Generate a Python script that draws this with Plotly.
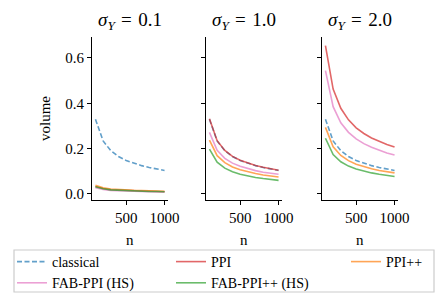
import plotly.graph_objects as go

n = [100, 200, 300, 400, 500, 600, 700, 800, 900, 1000]
sigmas = ["0.1", "1.0", "2.0"]
x_ticks = [500, 1000]
y_ticks = [0.0, 0.2, 0.4, 0.6]
y_tick_labels = ["0.0", "0.2", "0.4", "0.6"]

classical = [0.330, 0.234, 0.191, 0.165, 0.148, 0.135, 0.125, 0.117, 0.110, 0.104]

ppi = {
    "0.1": [0.033, 0.024, 0.019, 0.017, 0.015, 0.014, 0.013, 0.012, 0.011, 0.010],
    "1.0": [0.332, 0.235, 0.192, 0.166, 0.149, 0.136, 0.126, 0.118, 0.111, 0.105],
    "2.0": [0.654, 0.463, 0.378, 0.327, 0.292, 0.267, 0.247, 0.231, 0.218, 0.207],
}
ppi_pp = {
    "0.1": [0.038, 0.027, 0.022, 0.019, 0.017, 0.016, 0.015, 0.014, 0.013, 0.012],
    "1.0": [0.238, 0.169, 0.138, 0.119, 0.107, 0.097, 0.090, 0.084, 0.079, 0.075],
    "2.0": [0.294, 0.208, 0.170, 0.147, 0.131, 0.120, 0.111, 0.104, 0.098, 0.093],
}
fab_ppi = {
    "0.1": [0.028, 0.020, 0.016, 0.014, 0.013, 0.012, 0.011, 0.010, 0.010, 0.009],
    "1.0": [0.272, 0.193, 0.157, 0.136, 0.122, 0.111, 0.103, 0.096, 0.091, 0.087],
    "2.0": [0.544, 0.385, 0.314, 0.272, 0.243, 0.222, 0.206, 0.192, 0.181, 0.172],
}
fab_ppi_pp = {
    "0.1": [0.032, 0.023, 0.018, 0.016, 0.014, 0.013, 0.012, 0.011, 0.011, 0.010],
    "1.0": [0.198, 0.140, 0.114, 0.098, 0.087, 0.079, 0.073, 0.068, 0.064, 0.060],
    "2.0": [0.246, 0.174, 0.142, 0.123, 0.110, 0.100, 0.093, 0.087, 0.082, 0.077],
}

FONT = "Liberation Serif, Times New Roman, Times, serif"
W, H = 448, 306

colors = {
    "classical": "#1f77b4",
    "PPI": "#d62728",
    "PPI++": "#ff7f0e",
    "FAB-PPI (HS)": "#e377c2",
    "FAB-PPI++ (HS)": "#2ca02c",
}
legend_of = {
    "classical": "legend",
    "FAB-PPI (HS)": "legend",
    "PPI": "legend2",
    "FAB-PPI++ (HS)": "legend2",
    "PPI++": "legend3",
}

fig = go.Figure()

x_dom_px = [(92, 168), (206, 282), (322, 398)]
y_dom = [1 - 200 / H, 1 - 37 / H]

for i, s in enumerate(sigmas):
    xa = "x" if i == 0 else f"x{i+1}"
    ya = "y" if i == 0 else f"y{i+1}"
    series = [
        ("classical", classical, "dash"),
        ("PPI", ppi[s], "solid"),
        ("PPI++", ppi_pp[s], "solid"),
        ("FAB-PPI (HS)", fab_ppi[s], "solid"),
        ("FAB-PPI++ (HS)", fab_ppi_pp[s], "solid"),
    ]
    for name, vals, dash in series:
        fig.add_trace(go.Scatter(
            x=n, y=vals, mode="lines", name=name,
            line=dict(color=colors[name], width=1.6,
                      dash="5px,2.5px" if dash == "dash" else "solid"),
            opacity=0.7, xaxis=xa, yaxis=ya,
            showlegend=(i == 0), legend=legend_of[name],
        ))

axis_common = dict(
    showgrid=False, zeroline=False, showline=True, linecolor="black",
    linewidth=1.2, ticks="outside", ticklen=4, tickwidth=1.2, tickcolor="black",
    tickfont=dict(family=FONT, size=15, color="black"),
)

layout = dict(
    width=W, height=H, margin=dict(l=0, r=0, t=0, b=0, autoexpand=False),
    plot_bgcolor="white", paper_bgcolor="white",
    font=dict(family=FONT, color="black"),
)

for i in range(3):
    xk = "xaxis" if i == 0 else f"xaxis{i+1}"
    yk = "yaxis" if i == 0 else f"yaxis{i+1}"
    x0, x1 = x_dom_px[i]
    layout[xk] = dict(axis_common, domain=[x0 / W, x1 / W], range=[55, 1045],
                      tickvals=x_ticks, ticktext=[str(v) for v in x_ticks],
                      anchor="y" if i == 0 else f"y{i+1}")
    layout[yk] = dict(axis_common, domain=y_dom, range=[-0.0265, 0.6925],
                      tickvals=y_ticks, ticktext=y_tick_labels,
                      showticklabels=(i == 0),
                      anchor="x" if i == 0 else f"x{i+1}")

fig.update_layout(**layout)

annotations = []
for i, s in enumerate(sigmas):
    x0, x1 = x_dom_px[i]
    cx = (x0 + x1) / 2 / W
    annotations.append(dict(
        text=f"<i>σ</i><sub><i>Y</i></sub>\u2004=\u2004{s}", x=cx, y=1 - 21 / H,
        xref="paper", yref="paper", showarrow=False,
        font=dict(family=FONT, size=19, color="black"),
        xanchor="center", yanchor="middle"))
    annotations.append(dict(
        text="n", x=cx, y=1 - 240 / H, xref="paper", yref="paper",
        showarrow=False, font=dict(family=FONT, size=15, color="black"),
        xanchor="center", yanchor="middle"))
annotations.append(dict(
    text="volume", x=45 / W, y=1 - 119 / H, xref="paper", yref="paper",
    showarrow=False, textangle=-90,
    font=dict(family=FONT, size=15, color="black"),
    xanchor="center", yanchor="middle"))
fig.update_layout(annotations=annotations)

leg_common = dict(
    orientation="v", xanchor="left", yanchor="top", y=1 - 246 / H,
    bgcolor="rgba(0,0,0,0)", borderwidth=0, itemwidth=30,
    font=dict(family=FONT, size=14, color="black"),
    tracegroupgap=0,
)
fig.update_layout(
    legend=dict(leg_common, x=12 / W),
    legend2=dict(leg_common, x=171 / W),
    legend3=dict(leg_common, x=346 / W),
    shapes=[dict(type="rect", xref="paper", yref="paper",
                 x0=14 / W, x1=434 / W, y0=1 - 292 / H, y1=1 - 250 / H,
                 line=dict(color="#cccccc", width=1.2), fillcolor="rgba(0,0,0,0)",
                 layer="below")],
)

fig.write_html("out.html", config={"displayModeBar": False},
               post_script="document.body.style.margin='0';")
